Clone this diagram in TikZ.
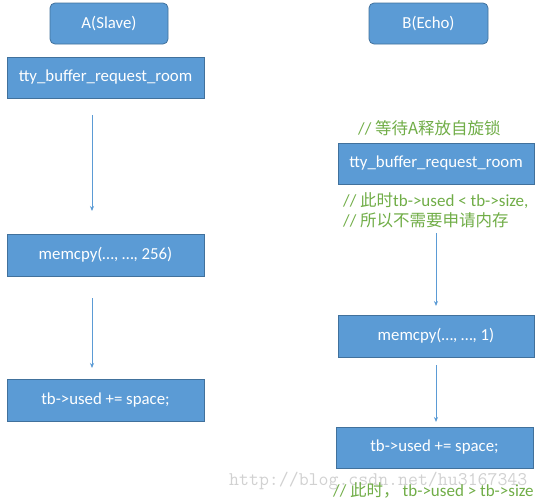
\documentclass[tikz,border=0pt]{standalone}
\usepackage{fontspec}
\setmainfont{Carlito}
\newfontfamily\cjk{Noto Sans CJK SC}
\usetikzlibrary{arrows.meta}
\definecolor{boxfill}{HTML}{5B9BD5}
\definecolor{boxline}{HTML}{41719C}
\definecolor{cmt}{HTML}{70AD47}
\newcommand{\zh}[1]{{\fontsize{16.5}{19}\selectfont\cjk #1}}
\begin{document}
\begin{tikzpicture}[x=1pt,y=-1pt,
  box/.style={draw=boxline,fill=boxfill,line width=0.8pt,text=white,font=\fontsize{16.8}{20}\selectfont,inner sep=0pt},
  conn/.style={draw=boxfill,line width=0.8pt,-{Stealth[length=5pt,width=4pt]}},
  note/.style={text=cmt,font=\fontsize{17}{20}\selectfont,inner sep=0pt,anchor=west}]
\useasboundingbox (0,0) rectangle (541,501);
\node[box,rounded corners=5pt,minimum width=118pt,minimum height=41pt] (ha) at (109,23.5) {A(Slave)};
\node[box,rounded corners=5pt,minimum width=119pt,minimum height=41pt] (hb) at (428.5,23.5) {B(Echo)};
\node[box,minimum width=197pt,minimum height=41pt] (a1) at (105.5,77.5) {tty\_buffer\_request\_room};
\node[box,minimum width=197pt,minimum height=42pt] (a2) at (105.5,255) {memcpy(…, …, 256)};
\node[box,minimum width=197pt,minimum height=42pt] (a3) at (105.5,400) {tb->used += space;};
\node[box,minimum width=196pt,minimum height=41pt] (b1) at (436,163.5) {tty\_buffer\_request\_room};
\node[box,minimum width=196pt,minimum height=42pt] (b2) at (436,336) {memcpy(…, …, 1)};
\node[box,minimum width=197pt,minimum height=41pt] (b3) at (434.5,447.5) {tb->used += space;};
\coordinate (s1) at (92,115);
\coordinate (e1) at (92,211);
\coordinate (s2) at (92,298);
\coordinate (e2) at (92,368);
\coordinate (s3) at (436,233);
\coordinate (e3) at (436,306);
\coordinate (s4) at (436,365);
\coordinate (e4) at (436,422);
\draw[conn] (s1) -- (e1);
\draw[conn] (s2) -- (e2);
\draw[conn] (s3) -- (e3);
\draw[conn] (s4) -- (e4);
\node[note] (n1) at (358,128) {// \zh{等待A释放自旋锁}};
\node[note] (n2) at (343,201) {// \zh{此时}tb->used < tb->size,};
\node[note] (n3) at (343,220) {// \zh{所以不需要申请内存}};
\node[text=black!18,font=\fontsize{19.3}{22}\selectfont\ttfamily,inner sep=0pt,anchor=west] (wm) at (229,481) {http://blog.csdn.net/hu3167343};
\node[note] (n4) at (333,490) {// \zh{此时，}\hspace{3pt}tb->used > tb->size};
\end{tikzpicture}
\end{document}
